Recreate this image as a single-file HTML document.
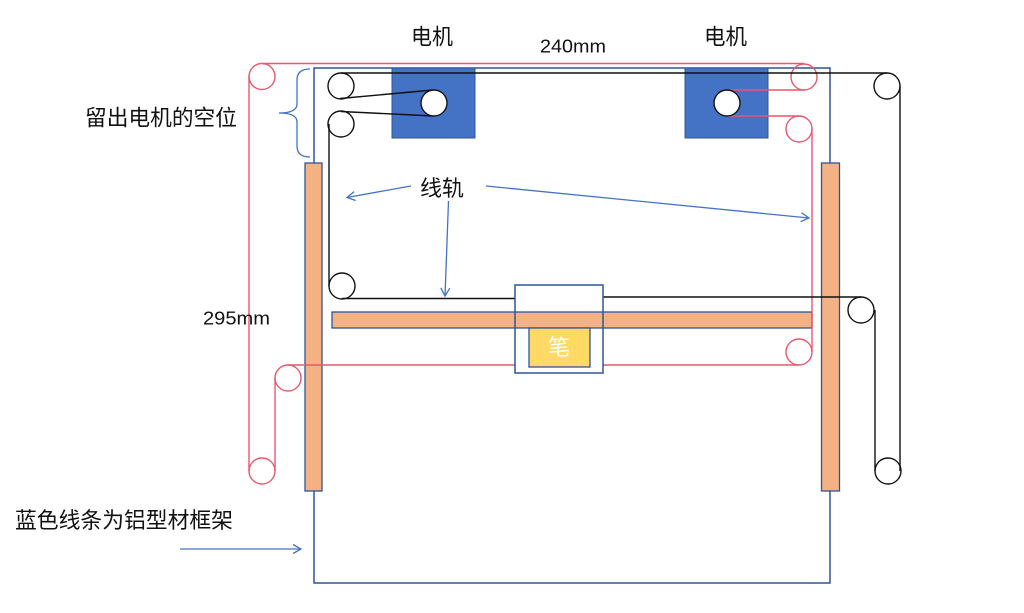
<!DOCTYPE html>
<html>
<head>
<meta charset="utf-8">
<style>
  html, body { margin:0; padding:0; background:#ffffff; }
  body { width:1024px; height:613px; overflow:hidden; }
  svg { display:block; }
  .cjk { font-family: "Liberation Sans", "Noto Sans CJK SC", sans-serif; fill:#111; }
  .lat { font-family: "Liberation Sans", sans-serif; fill:#111; }
</style>
</head>
<body>
<svg width="1024" height="613" viewBox="0 0 1024 613" xmlns="http://www.w3.org/2000/svg">
  <defs>
    <marker id="ah" markerWidth="12" markerHeight="12" refX="10" refY="6" orient="auto" markerUnits="userSpaceOnUse">
      <polyline points="2,1.5 10,6 2,10.5" fill="none" stroke="#4472C4" stroke-width="1.3"/>
    </marker>
  </defs>

  <!-- frame -->
  <rect x="314" y="68" width="516" height="515" fill="none" stroke="#2F5597" stroke-width="1.5"/>

  <!-- rails -->
  <rect x="305" y="163" width="17" height="328" fill="#F4B183" stroke="#2F5597" stroke-width="1.3"/>
  <rect x="821.5" y="163" width="18" height="328" fill="#F4B183" stroke="#2F5597" stroke-width="1.3"/>
  <rect x="332" y="312" width="480" height="16" fill="#F4B183" stroke="#2F5597" stroke-width="1.3"/>

  <!-- motors -->
  <rect x="392" y="68" width="83" height="70" fill="#4472C4" stroke="#2F5597" stroke-width="1"/>
  <rect x="685" y="68" width="83" height="70" fill="#4472C4" stroke="#2F5597" stroke-width="1"/>

  <!-- red belt -->
  <g fill="none" stroke="#E9576B" stroke-width="1.4">
    <path d="M262,63.5 H804"/>
    <path d="M804,90 H727"/>
    <path d="M727,116 H799"/>
    <path d="M812,129 V352"/>
    <path d="M799,365 H603"/>
    <path d="M515,365 H288"/>
    <path d="M275,378 V471"/>
    <path d="M249,471 V76"/>
    <circle cx="262" cy="76.5" r="13"/>
    <circle cx="804" cy="77" r="13"/>
    <circle cx="799" cy="129" r="13"/>
    <circle cx="799" cy="352" r="13"/>
    <circle cx="288" cy="378" r="13"/>
    <circle cx="262" cy="471" r="13"/>
  </g>

  <!-- black belt -->
  <g fill="none" stroke="#111" stroke-width="1.4">
    <path d="M341,73 H887"/>
    <path d="M900,86 V471"/>
    <path d="M875,471 V310"/>
    <path d="M861,297 H603"/>
    <path d="M515,298.5 H342"/>
    <path d="M329,286 V124"/>
    <path d="M340,98.5 L433,90"/>
    <path d="M341,111.5 L433,116"/>
    <circle cx="341" cy="86" r="13"/>
    <circle cx="341" cy="124" r="13"/>
    <circle cx="342" cy="286" r="13"/>
    <circle cx="887" cy="86" r="13"/>
    <circle cx="861" cy="310" r="13"/>
    <circle cx="888" cy="471" r="13"/>
  </g>
  <circle cx="434" cy="103" r="13" fill="#fff" stroke="#111" stroke-width="1.4"/>
  <circle cx="727" cy="103" r="13" fill="#fff" stroke="#111" stroke-width="1.4"/>

  <!-- carriage -->
  <rect x="515" y="285" width="88" height="88" fill="none" stroke="#2F5597" stroke-width="1.5"/>
  <rect x="529" y="328" width="61" height="39" fill="#FFD966" stroke="#2F5597" stroke-width="1.3"/>
  <text x="548" y="355" font-size="22" class="cjk" style="fill:#ffffff">笔</text>

  <!-- brace -->
  <path d="M310,69 Q297,69 297,80 V104 Q297,113 279,113 Q297,113 297,122 V146 Q297,157 310,157" fill="none" stroke="#4472C4" stroke-width="1.3"/>

  <!-- arrows -->
  <g fill="none" stroke="#4472C4" stroke-width="1.3">
    <path d="M411,186 L347,197.5" marker-end="url(#ah)"/>
    <path d="M486,186 L809,218" marker-end="url(#ah)"/>
    <path d="M448.5,201 L445,296" marker-end="url(#ah)"/>
    <path d="M180,549 L301,549" marker-end="url(#ah)"/>
  </g>

  <!-- labels -->
  <text x="411" y="44.5" font-size="22" class="cjk" textLength="42" lengthAdjust="spacingAndGlyphs">电机</text>
  <text x="704" y="44.5" font-size="22" class="cjk" textLength="43" lengthAdjust="spacingAndGlyphs">电机</text>
  <text x="540" y="52.5" font-size="18" class="lat" textLength="66" lengthAdjust="spacingAndGlyphs">240mm</text>
  <text x="85" y="125.5" font-size="22" class="cjk" textLength="152" lengthAdjust="spacingAndGlyphs">留出电机的空位</text>
  <text x="420" y="196" font-size="22" class="cjk" textLength="44" lengthAdjust="spacingAndGlyphs">线轨</text>
  <text x="203" y="324.5" font-size="18" class="lat" textLength="67" lengthAdjust="spacingAndGlyphs">295mm</text>
  <text x="15" y="528" font-size="22" class="cjk" textLength="218" lengthAdjust="spacingAndGlyphs">蓝色线条为铝型材框架</text>
</svg>
</body>
</html>
